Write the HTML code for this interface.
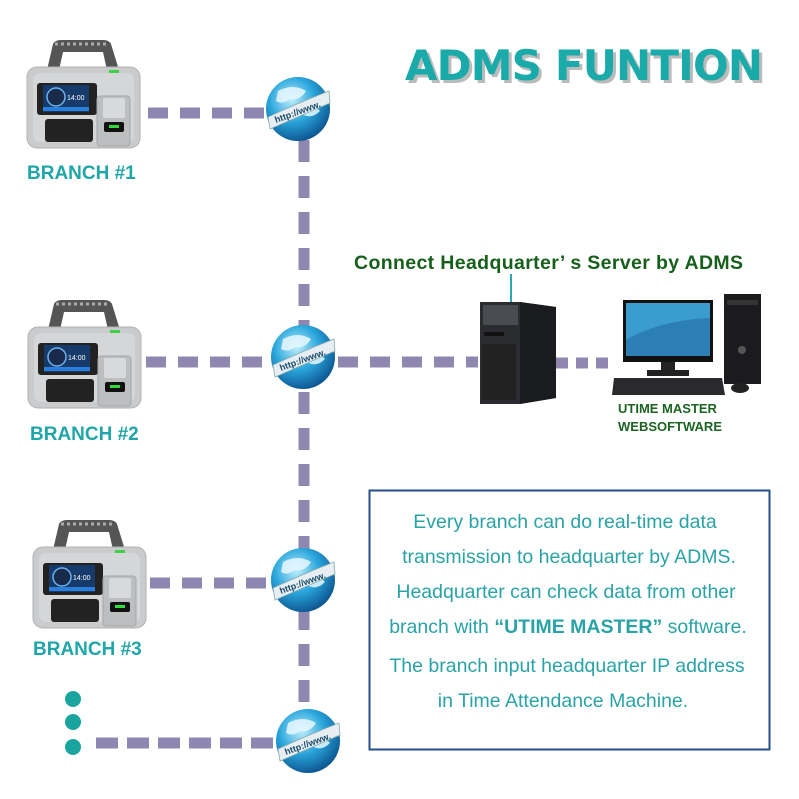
<!DOCTYPE html>
<html><head><meta charset="utf-8"><style>
html,body{margin:0;padding:0;background:#fff}
svg{display:block}
</style></head><body>
<svg width="799" height="799" viewBox="0 0 799 799" xmlns="http://www.w3.org/2000/svg" font-family="Liberation Sans, sans-serif">
<defs>
<radialGradient id="gl" cx="0.4" cy="0.35" r="0.7">
<stop offset="0" stop-color="#bfeefc"/><stop offset="0.5" stop-color="#2aa6dc"/><stop offset="1" stop-color="#0a4f8a"/>
</radialGradient>
<g id="dev">
<path d="M20 30 L26 4 Q28 0 34 0 L76 0 Q82 0 84 4 L92 30 L80 30 L76 12 L36 12 L32 30 Z" fill="#555"/>
<path d="M28 4 L82 4" stroke="#aaa" stroke-width="3" stroke-dasharray="3 3"/>
<rect x="0" y="27" width="113" height="81" rx="10" fill="#c9cbcc" stroke="#b0b2b3"/>
<rect x="6" y="33" width="101" height="69" rx="7" fill="#d4d6d7"/>
<rect x="10" y="43" width="60" height="32" rx="3" fill="#222"/>
<rect x="16" y="45" width="46" height="27" fill="#163a6a"/>
<circle cx="29" cy="57" r="9" fill="#1a2a4a" stroke="#6ab3ee" stroke-width="1.5"/>
<rect x="16" y="67" width="46" height="4" fill="#2b7fd8"/>
<text x="40" y="60" font-size="7" fill="#fff">14:00</text>
<rect x="18" y="79" width="48" height="23" rx="3" fill="#222"/>
<rect x="70" y="56" width="33" height="50" rx="3" fill="#bcbebf" stroke="#a5a7a8"/>
<rect x="76" y="58" width="22" height="20" rx="2" fill="#d8d9da"/>
<rect x="77" y="82" width="20" height="10" rx="2" fill="#111"/>
<rect x="82" y="85" width="10" height="3" fill="#2fdc3a"/>
<rect x="82" y="30" width="10" height="3" fill="#3bd24a"/>
</g>
<g id="globe">
<circle r="32" fill="url(#gl)"/>
<path d="M-20 -18 Q-5 -26 8 -18 Q2 -8 -8 -10 Q-16 -4 -22 -8 Z M4 -2 Q16 -6 22 2 Q14 10 6 6 Z" fill="#e8f8ff" opacity="0.85"/>
<path d="M-30 8 Q0 -6 31 -18 L32 -6 Q0 8 -28 20 Z" fill="#e6eef3" stroke="#8aa" stroke-width="0.8"/>
<text x="-22" y="14" font-size="9" font-weight="bold" fill="#1a4a6a" transform="rotate(-20 -22 14)">http://www.</text>
</g>
</defs>

<text x="405" y="80" font-size="42" font-weight="900" fill="#bbb" transform="translate(3,3)" font-family="DejaVu Sans, sans-serif" textLength="358">ADMS FUNTION</text>
<text x="405" y="80" font-size="42" font-weight="900" fill="#19aaa9" font-family="DejaVu Sans, sans-serif" textLength="358">ADMS FUNTION</text>

<g stroke="#8f87b0" stroke-width="11" fill="none">
<line x1="148" y1="113" x2="268" y2="113" stroke-dasharray="20 12"/>
<line x1="304" y1="140" x2="304" y2="715" stroke-dasharray="22 14"/>
<line x1="146" y1="362" x2="272" y2="362" stroke-dasharray="20 12"/>
<line x1="338" y1="362" x2="478" y2="362" stroke-dasharray="20 12"/>
<line x1="556" y1="363" x2="612" y2="363" stroke-dasharray="12 8"/>
<line x1="150" y1="583" x2="272" y2="583" stroke-dasharray="20 12"/>
<line x1="96" y1="743" x2="276" y2="743" stroke-dasharray="22 9"/>
</g>

<use href="#dev" x="27" y="40"/>
<use href="#dev" x="28" y="300"/>
<use href="#dev" x="33" y="520"/>

<use href="#globe" x="298" y="109"/>
<use href="#globe" x="303" y="357"/>
<use href="#globe" x="303" y="580"/>
<use href="#globe" x="308" y="741"/>

<g font-size="19" font-weight="bold" fill="#20a5a8">
<text x="27" y="179">BRANCH #1</text>
<text x="30" y="440">BRANCH #2</text>
<text x="33" y="655">BRANCH #3</text>
</g>
<g fill="#1aa49e">
<circle cx="73" cy="699" r="8"/><circle cx="73" cy="722" r="8"/><circle cx="73" cy="747" r="8"/>
</g>

<text x="354" y="269" font-size="19.5" font-weight="bold" fill="#17601c" textLength="389">Connect Headquarter’ s Server by ADMS</text>
<line x1="511" y1="274" x2="511" y2="302" stroke="#2aa8b8" stroke-width="2"/>

<polygon points="480,302 520,302 556,307 556,398 520,404 480,404" fill="#2a2c30"/>
<polygon points="520,302 556,307 556,398 520,404" fill="#1a1b1e"/>
<rect x="483" y="305" width="35" height="20" fill="#4a4c52"/>
<rect x="484" y="332" width="20" height="4" fill="#111"/>
<rect x="482" y="344" width="34" height="56" fill="#222"/>

<rect x="623" y="300" width="90" height="62" fill="#111"/>
<rect x="626" y="303" width="84" height="53" fill="#3b9ccf"/>
<path d="M626 340 Q660 320 710 318 L710 356 L626 356 Z" fill="#2b7fb5"/>
<rect x="661" y="362" width="14" height="10" fill="#222"/>
<rect x="647" y="370" width="42" height="6" fill="#222"/>
<rect x="724" y="294" width="37" height="90" fill="#1b1b1e"/>
<rect x="727" y="300" width="31" height="5" fill="#333"/>
<circle cx="742" cy="350" r="4" fill="#555"/>
<polygon points="614,378 722,378 725,395 612,395" fill="#2a2a2e"/>
<ellipse cx="740" cy="388" rx="9" ry="5" fill="#222"/>

<g font-size="13" font-weight="bold" fill="#1c6422">
<text x="618" y="413">UTIME MASTER</text>
<text x="618" y="431">WEBSOFTWARE</text>
</g>

<rect x="369.5" y="490.5" width="400" height="259" fill="#fff" stroke="#23508a" stroke-width="2"/>
<g font-size="19.5" fill="#2aa3a6" text-anchor="middle">
<text x="565" y="528">Every branch can do real-time data</text>
<text x="569" y="563">transmission to headquarter by ADMS.</text>
<text x="566" y="598">Headquarter can check data from other</text>
<text x="568" y="633">branch with  <tspan font-weight="bold">“UTIME MASTER”</tspan> software.</text>
<text x="567" y="672">The branch input headquarter IP address</text>
<text x="563" y="707">in Time Attendance Machine.</text>
</g>
</svg>
</body></html>
